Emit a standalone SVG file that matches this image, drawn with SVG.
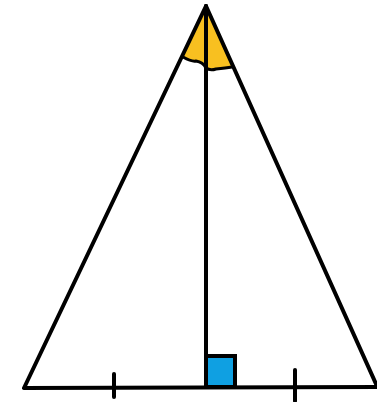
<svg xmlns="http://www.w3.org/2000/svg" width="377" height="402" viewBox="0 0 377 402">
<style>
.ln{stroke:#000;stroke-width:4;fill:none;stroke-linecap:round;stroke-linejoin:round}
.arc{stroke:#000;stroke-width:3;fill:none;stroke-linecap:round}
</style>
<rect width="377" height="402" fill="#fff"/>
<g id="angle">
<path d="M206,8 L183,57 Q192,62 196,61 Q203,62 206,68 Q210,71 216,69 Q226,68 232,67 Z" fill="#f8c020"/>
<path class="arc" d="M183,57 Q192,62 196,61 Q203,62 206,68"/>
<path class="arc" d="M206,68 Q210,71 216,69 Q226,68 232,67"/>
</g>
<g id="rightangle">
<rect x="206" y="356" width="29" height="31" fill="#0fa0e2" stroke="#000" stroke-width="4"/>
</g>
<g id="triangle">
<path class="ln" d="M206,6 L24,388 L377,387"/>
<path class="ln" d="M206,6 L376,384"/>
<path class="ln" d="M206,6 L206,387"/>
</g>
<g id="ticks">
<path class="ln" d="M114,374 L114,397"/>
<path class="ln" d="M295,370 L295,401"/>
</g>
</svg>
